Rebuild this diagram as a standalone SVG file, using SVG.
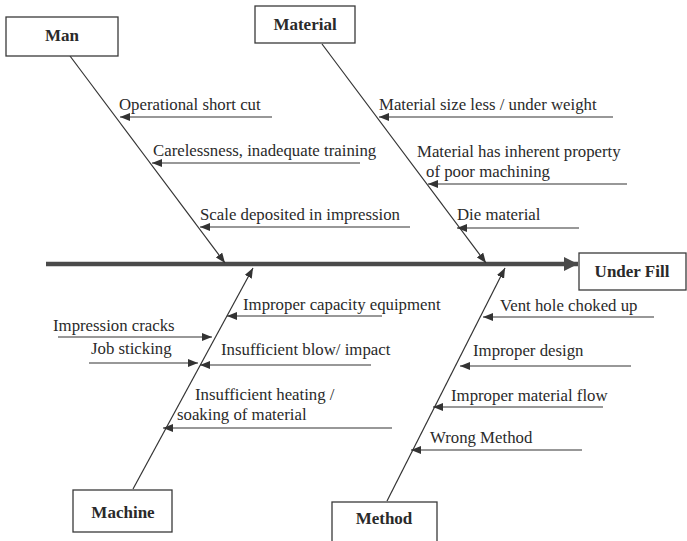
<svg xmlns="http://www.w3.org/2000/svg" width="687" height="541" viewBox="0 0 687 541">
<style>
.box{fill:#fff;stroke:#3a3a3a;stroke-width:1.3}
.t{font-family:"Liberation Serif","Times New Roman",serif;font-size:16.8px;fill:#2a2a2a}
.b{font-family:"Liberation Serif","Times New Roman",serif;font-size:17px;font-weight:bold;fill:#2a2a2a;text-anchor:middle}
.ln{stroke:#333;stroke-width:1.2;fill:none;marker-end:url(#ah)}
.sp{stroke:#4a4a4a;stroke-width:4.5;fill:none;marker-end:url(#big)}
</style>
<defs>
<marker id="ah" viewBox="0 0 10 8" refX="10" refY="4" markerWidth="10" markerHeight="8" markerUnits="userSpaceOnUse" orient="auto">
<path d="M0,0 L10,4 L0,8 Z" fill="#333"/>
</marker>
<marker id="big" viewBox="0 0 14 14" refX="14" refY="7" markerWidth="14" markerHeight="14" markerUnits="userSpaceOnUse" orient="auto">
<path d="M0,0 L14,7 L0,14 Z" fill="#4a4a4a"/>
</marker>
</defs>
<rect width="687" height="541" fill="#fff"/>
<g id="connectors">
<line class="sp" x1="46" y1="264" x2="578" y2="264"/>
<line class="ln" x1="70" y1="56" x2="225" y2="263"/>
<line class="ln" x1="322" y1="44" x2="486" y2="263"/>
<line class="ln" x1="133" y1="489" x2="253" y2="268"/>
<line class="ln" x1="387" y1="501" x2="505" y2="268"/>
<line class="ln" x1="272" y1="117" x2="120" y2="117"/>
<line class="ln" x1="360" y1="163" x2="152" y2="163"/>
<line class="ln" x1="410" y1="227" x2="200" y2="227"/>
<line class="ln" x1="613" y1="117" x2="379" y2="117"/>
<line class="ln" x1="627" y1="184" x2="428" y2="184"/>
<line class="ln" x1="579" y1="228" x2="457" y2="228"/>
<line class="ln" x1="382" y1="316" x2="227" y2="316"/>
<line class="ln" x1="58" y1="337" x2="212" y2="337"/>
<line class="ln" x1="89" y1="363" x2="198" y2="363"/>
<line class="ln" x1="371" y1="365" x2="200" y2="365"/>
<line class="ln" x1="392" y1="428" x2="163" y2="428"/>
<line class="ln" x1="654" y1="317" x2="483" y2="317"/>
<line class="ln" x1="631" y1="366" x2="460" y2="366"/>
<line class="ln" x1="603" y1="407" x2="433" y2="407"/>
<line class="ln" x1="582" y1="450" x2="411" y2="450"/>
</g>
<g id="man"><rect class="box" x="6" y="17" width="112" height="39"/><text class="b" x="62" y="41">Man</text></g>
<g id="material"><rect class="box" x="255" y="6" width="100" height="37"/><text class="b" x="305" y="30">Material</text></g>
<g id="underfill"><rect class="box" x="579" y="253" width="107" height="37"/><text class="b" x="632" y="277">Under Fill</text></g>
<g id="machine"><rect class="box" x="73" y="490" width="99" height="42"/><text class="b" x="123" y="518">Machine</text></g>
<g id="method"><rect class="box" x="332" y="502" width="105" height="45"/><text class="b" x="384" y="524">Method</text></g>
<g id="causes">
<text class="t" x="119" y="110">Operational short cut</text>
<text class="t" x="153" y="156">Carelessness, inadequate training</text>
<text class="t" x="200" y="220">Scale deposited in impression</text>
<text class="t" x="379" y="110">Material size less / under weight</text>
<text class="t" x="417" y="157">Material has inherent property</text>
<text class="t" x="426" y="177">of poor machining</text>
<text class="t" x="457" y="220">Die material</text>
<text class="t" x="243" y="310">Improper capacity equipment</text>
<text class="t" x="53" y="331">Impression cracks</text>
<text class="t" x="91" y="354">Job sticking</text>
<text class="t" x="221" y="355">Insufficient blow/ impact</text>
<text class="t" x="195" y="400">Insufficient heating /</text>
<text class="t" x="177" y="420">soaking of material</text>
<text class="t" x="500" y="311">Vent hole choked up</text>
<text class="t" x="473" y="356">Improper design</text>
<text class="t" x="451" y="401">Improper material flow</text>
<text class="t" x="430" y="443">Wrong Method</text>
</g>
</svg>
